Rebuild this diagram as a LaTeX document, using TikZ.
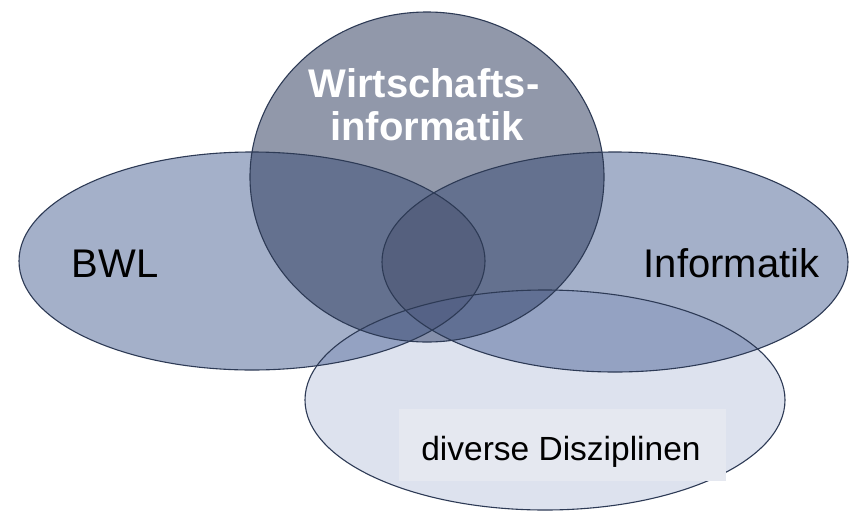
\documentclass[tikz,border=0pt]{standalone}
\usepackage{fontspec}
\setmainfont{Liberation Sans}
\definecolor{setfill}{RGB}{28,58,120}
\definecolor{lensfill}{RGB}{135,143,167}
\definecolor{wifill}{RGB}{37,51,87}
\definecolor{divfill}{RGB}{85,110,170}
\definecolor{edgecol}{RGB}{45,58,85}
\definecolor{boxfill}{RGB}{229,232,240}
\tikzset{
  setshape/.style={fill=setfill, fill opacity=0.4, draw=none},
  wishape/.style={fill=wifill, fill opacity=0.5, draw=none},
  divshape/.style={fill=divfill, fill opacity=0.2, draw=none},
  outline/.style={draw=edgecol, line width=1.1pt},
  bigtext/.style={font=\fontsize{40}{44}\selectfont, text=black, anchor=base, inner sep=0pt},
  witext/.style={font=\fontsize{40}{44}\selectfont\bfseries, text=white, anchor=base, inner sep=0pt},
  divtext/.style={font=\fontsize{33.5}{38}\selectfont, text=black, anchor=base, inner sep=0pt}
}
\begin{document}
\begin{tikzpicture}[x=1pt,y=-1pt]
\useasboundingbox (0,0) rectangle (852,512);
\fill[white] (0,0) rectangle (852,512);
% fills
\path[setshape] (252,261) ellipse [x radius=233pt, y radius=109pt];
\path[setshape] (615,262) ellipse [x radius=233pt, y radius=110pt];
\begin{scope}
  \clip (252,261) ellipse [x radius=233pt, y radius=109pt];
  \fill[lensfill] (615,262) ellipse [x radius=233pt, y radius=110pt];
\end{scope}
\path[wishape] (427,177) ellipse [x radius=177pt, y radius=165pt];
\path[divshape] (545,400) ellipse [x radius=240pt, y radius=110pt];
% outlines
\draw[outline] (252,261) ellipse [x radius=233pt, y radius=109pt];
\draw[outline] (615,262) ellipse [x radius=233pt, y radius=110pt];
\draw[outline] (427,177) ellipse [x radius=177pt, y radius=165pt];
\draw[outline] (545,400) ellipse [x radius=240pt, y radius=110pt];
% label box
\fill[boxfill] (399,409) rectangle (726,481);
% texts
\node[bigtext] (bwl) at (115,277) {BWL};
\node[bigtext] (inf) at (731.5,277) {Informatik};
\node[witext] (wi1) at (424,97) {Wirtschafts-};
\node[witext] (wi2) at (427,140) {informatik};
\node[divtext] (div) at (561,460) {diverse Disziplinen};
\end{tikzpicture}
\end{document}
